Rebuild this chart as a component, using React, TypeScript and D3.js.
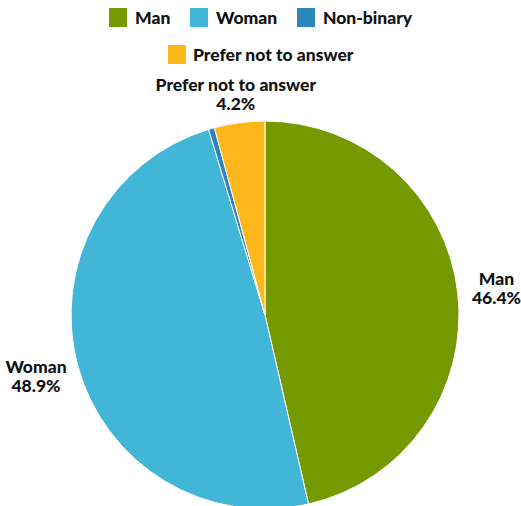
import React from "react";
import * as d3 from "d3";

const categories = ["Man", "Woman", "Non-binary", "Prefer not to answer"];
const values = [46.4, 48.9, 0.5, 4.2];
const colors = ["#759a00", "#41b6d6", "#2c86b9", "#fdb71a"];
const labeled = [true, true, false, true];

const W = 521;
const H = 506;
const cx = 265;
const cy = 315;
const R = 194;
const labelRadius = [233, 237, 228, 222];
const font = "Lato, 'Noto Sans', sans-serif";
const fs = 17.5;

export default function App() {
  const pie = d3.pie<number>().sort(null).value((d) => d)(values);
  const arc = d3.arc<d3.PieArcDatum<number>>().innerRadius(0).outerRadius(R);

  const row1 = [
    { i: 0, x: 109, tx: 135 },
    { i: 1, x: 190, tx: 216 },
    { i: 2, x: 297, tx: 323 },
  ];
  const row2 = [{ i: 3, x: 168, tx: 193 }];

  return (
    <svg width={W} height={H} style={{ position: "absolute", left: 0, top: 0 }} fontFamily={font}>
      <g transform={`translate(${cx},${cy})`}>
        {pie.map((p, i) => (
          <path key={i} d={arc(p) || ""} fill={colors[i]} stroke="#fff" strokeWidth={1} />
        ))}
        {pie.map((p, i) => {
          if (!labeled[i]) return null;
          const lr = labelRadius[i];
          const [x, y] = d3.arc<d3.PieArcDatum<number>>().innerRadius(lr).outerRadius(lr).centroid(p);
          return (
            <text key={i} x={x} y={y} textAnchor="middle" fontSize={fs} fontWeight={900} fill="#111">
              <tspan x={x} dy={-3.5}>{categories[i]}</tspan>
              <tspan x={x} dy={19}>{values[i].toFixed(1)}%</tspan>
            </text>
          );
        })}
      </g>
      {[...row1.map((r) => ({ ...r, y: 8 })), ...row2.map((r) => ({ ...r, y: 45 }))].map((r) => (
        <g key={r.i}>
          <rect x={r.x} y={r.y} width={18} height={19} fill={colors[r.i]} />
          <text x={r.tx} y={r.y + 16} fontSize={fs} fontWeight={900} fill="#111">
            {categories[r.i]}
          </text>
        </g>
      ))}
    </svg>
  );
}
